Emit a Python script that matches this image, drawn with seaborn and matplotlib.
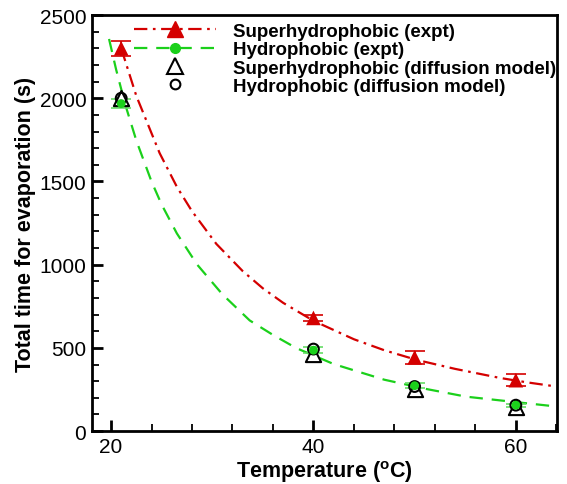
import numpy as np
import pandas as pd
import matplotlib
matplotlib.use("Agg")
import matplotlib.pyplot as plt
from matplotlib.lines import Line2D
from matplotlib.ticker import MultipleLocator
import seaborn as sns

sns.set_style("white")
plt.rcParams['font.family'] = ['Liberation Sans', 'DejaVu Sans']
for k in ['text.color', 'axes.labelcolor', 'xtick.color', 'ytick.color']:
    plt.rcParams[k] = 'black'

# measured points (temperature in C, time in s)
temps = [21, 40, 50, 60]
sh_expt = [2300, 680, 443, 306]
sh_err = [45, 20, 38, 36]
hy_expt = [1968, 486, 273, 156]
hy_err = [27, 17, 15, 10]
sh_model = [2000, 463, 256, 148]
hy_model = [2000, 493, 268, 156]

# fitted curves
sh_fit_t = [21.0, 22.5, 24.8, 26.5, 28.0, 30.4, 33.0, 35.0, 37.0, 40.0, 44.0, 47.0, 50.2, 54.0, 58.4, 61.0, 64.0]
sh_fit_y = [2300, 2013, 1670, 1468, 1321, 1125, 962, 858, 771, 663, 552, 486, 428, 374, 320, 294, 268]
hy_fit_t = [19.8, 20.5, 21.4, 22.5, 24.0, 25.0, 26.5, 28.5, 31.0, 33.7, 36.0, 38.3, 42.0, 47.0, 51.0, 55.1, 59.0, 63.4]
hy_fit_y = [2356, 2172, 1962, 1745, 1499, 1361, 1188, 1001, 822, 665, 578, 499, 403, 309, 255, 207, 181, 152]

red = '#d40000'
green = '#1bd01b'

fig = plt.figure(figsize=(5.67, 4.85), dpi=100)
ax = fig.add_axes([0.162, 0.109, 0.820, 0.858])

sns.lineplot(x=sh_fit_t, y=sh_fit_y, ax=ax, color=red, lw=1.6, sort=False,
             estimator=None)
ax.lines[-1].set_dashes([6, 2.5, 1.2, 2.5])
sns.lineplot(x=hy_fit_t, y=hy_fit_y, ax=ax, color=green, lw=1.6, sort=False,
             estimator=None)
ax.lines[-1].set_dashes([6, 4])

ax.errorbar(temps, hy_expt, yerr=hy_err, fmt='none', ecolor='#66dd66',
            capsize=7, elinewidth=1.2, capthick=1.2, zorder=3)
ax.errorbar(temps, sh_expt, yerr=sh_err, fmt='none', ecolor=red,
            capsize=7, elinewidth=1.2, capthick=1.2, zorder=3)

sns.scatterplot(x=temps, y=sh_model, ax=ax, marker='^', s=120,
                facecolor='white', edgecolor='black', linewidth=1.5, zorder=4)
sns.scatterplot(x=temps, y=hy_model, ax=ax, marker='o', s=60,
                facecolor='none', edgecolor='black', linewidth=1.5, zorder=5)
sns.scatterplot(x=temps, y=hy_expt, ax=ax, marker='o', s=40,
                color=green, edgecolor='none', zorder=6)
sns.scatterplot(x=temps, y=sh_expt, ax=ax, marker='^', s=110,
                color=red, edgecolor='none', zorder=6)

ax.set_xlim(18.1, 64.05)
ax.set_ylim(0, 2500)
ax.xaxis.set_major_locator(MultipleLocator(20))
ax.xaxis.set_minor_locator(MultipleLocator(4))
ax.yaxis.set_major_locator(MultipleLocator(500))
ax.yaxis.set_minor_locator(MultipleLocator(100))
ax.tick_params(which='both', direction='in', left=True, bottom=True,
               right=False, top=False, labelsize=15, color='black', width=1.3)
ax.tick_params(which='major', length=8, width=2, pad=4)
ax.tick_params(which='minor', length=5)
for s in ax.spines.values():
    s.set_linewidth(2)
    s.set_color('black')

ax.set_xlabel(r'Temperature ($^{\mathregular{o}}$C)', fontsize=15.5, fontweight='bold')
ax.set_ylabel('Total time for evaporation (s)', fontsize=15.5, fontweight='bold')
ax.xaxis.set_label_coords(0.5, -0.097)
ax.xaxis.label.set_va('center')
ax.yaxis.set_label_coords(-0.142, 0.5)
ax.yaxis.label.set_va('center')

handles = [
    Line2D([], [], color=red, lw=1.6, dashes=[6, 2.5, 1.2, 2.5], marker='^', markersize=11),
    Line2D([], [], color=green, lw=1.6, dashes=[6, 4], marker='o', markersize=7),
    Line2D([], [], color='none', marker='^', markersize=11, markerfacecolor='white',
           markeredgecolor='black', markeredgewidth=1.5),
    Line2D([], [], color='none', marker='o', markersize=7, markerfacecolor='none',
           markeredgecolor='black', markeredgewidth=1.5),
]
labels = ['Superhydrophobic (expt)', 'Hydrophobic (expt)',
          'Superhydrophobic (diffusion model)', 'Hydrophobic (diffusion model)']
ax.legend(handles, labels, loc='upper right', frameon=False, handlelength=4.4,
          prop={'weight': 'bold', 'size': 13.5}, labelspacing=0.07,
          borderaxespad=0.0, handletextpad=0.9, bbox_to_anchor=(1.015, 1.0))

fig.savefig('out.png', dpi=100)
